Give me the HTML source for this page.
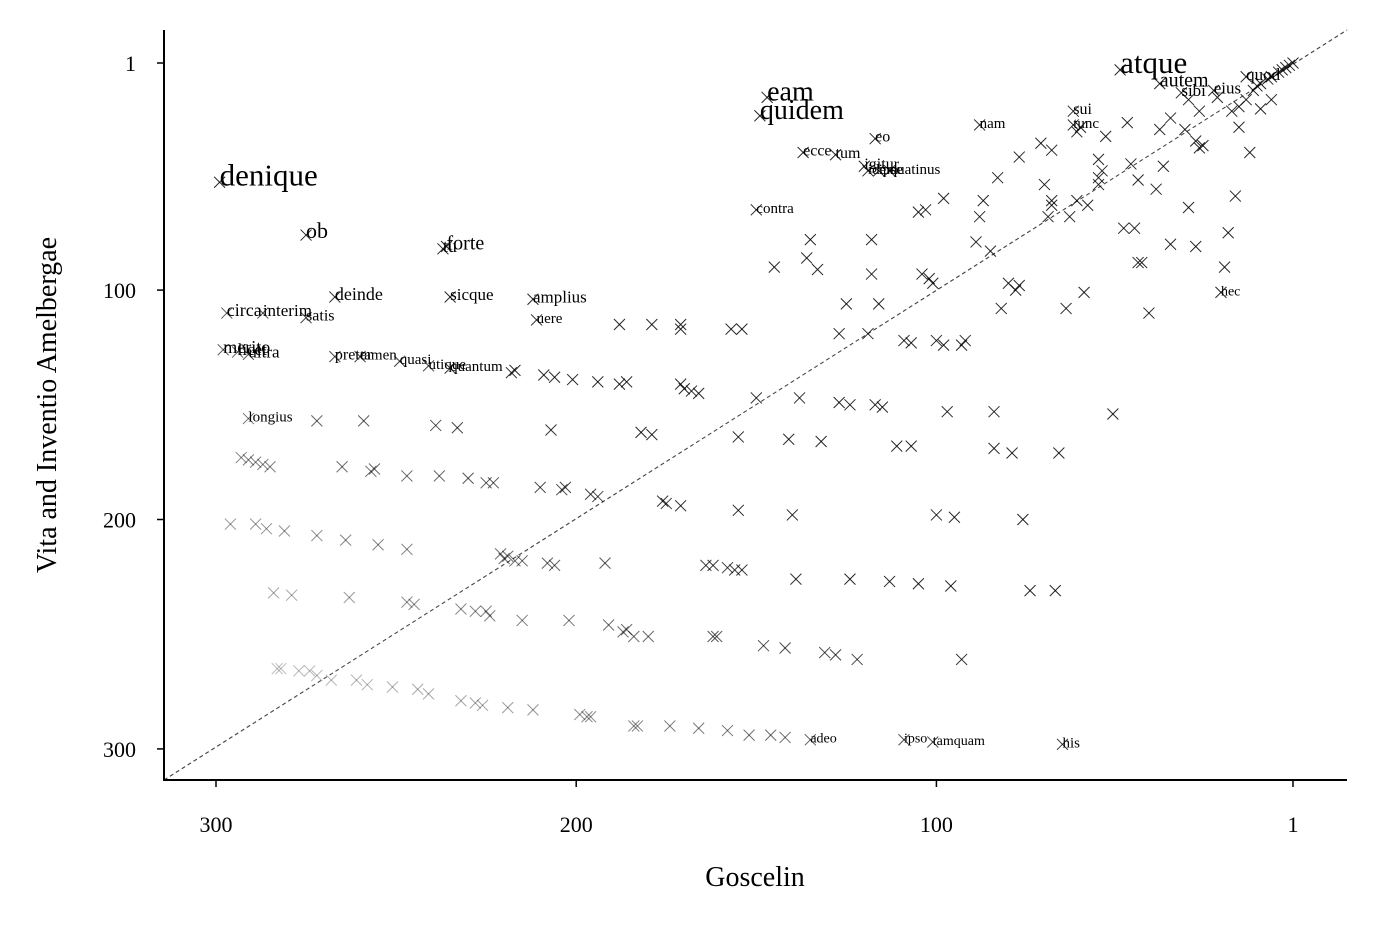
<!DOCTYPE html>
<html><head><meta charset="utf-8"><style>
html,body{margin:0;padding:0;background:#fff;}
svg{display:block;font-family:"Liberation Serif",serif;}
</style></head><body>
<svg id="chart" width="1376" height="925" viewBox="0 0 1376 925" xmlns="http://www.w3.org/2000/svg"></svg>
<script>
const gosRanks=[1,2,3,4,5,7,8,10,11,12,
7,10,14,16,18,16,13,17,19,20,
30,27,22,28,27,26,31,30,28,35,
38,37,35,39,41,44,46,47,43,44,
48,45,51,54,53,55,55,55,58,59,
64,66,67,74,60,61,61,63,68,68,
69,70,71,68,77,78,80,77,83,82,
85,84,84,79,76,89,88,87,98,105,
103,104,102,101,97,100,98,93,92,100,
95,96,93,105,113,124,139,118,116,118,
125,127,119,117,115,109,107,111,107,127,
124,122,131,128,142,148,135,133,136,145,
132,138,141,140,150,155,155,154,156,158,
162,164,161,162,152,146,142,158,166,174,
183,184,197,196,199,212,219,154,157,171,
170,168,166,179,182,176,175,171,180,184,
187,186,191,192,196,194,194,188,186,188,
201,206,209,218,217,207,210,204,203,221,
220,217,208,202,171,171,179,272,259,239,
233,293,291,289,287,285,265,257,256,247,
238,230,225,223,296,289,286,281,272,264,
255,247,219,215,206,284,279,263,247,245,
232,228,225,224,215,283,282,277,274,272,
268,261,258,251,244,241,232,228,226];
const vitaRanks=[1,2,3,4,5,7,8,10,11,13,
17,21,17,20,22,29,40,59,75,90,
17,22,16,35,38,37,30,64,81,25,
30,46,80,56,110,52,45,27,88,88,
73,73,154,48,33,43,51,54,63,101,
108,171,231,231,29,31,61,68,61,63,
68,54,36,39,42,100,97,98,51,108,
83,153,169,171,200,79,68,61,60,66,
65,93,95,97,153,122,124,124,122,198,
199,229,261,228,227,226,226,93,106,78,
106,119,119,150,151,122,123,168,168,149,
150,261,258,259,256,255,78,91,86,90,
166,147,165,198,147,164,196,222,222,221,
220,220,251,251,294,294,295,292,291,290,
290,290,286,286,285,283,282,117,117,141,
143,144,145,163,162,192,193,194,251,251,
249,248,246,219,189,190,140,141,140,115,
139,138,137,136,135,161,186,187,186,215,
217,218,219,244,115,117,115,157,157,159,
160,173,174,175,176,177,177,179,178,181,
181,182,184,184,202,202,204,205,207,209,
211,213,216,218,220,232,233,234,236,237,
239,240,240,242,244,265,265,266,266,268,
270,270,272,273,274,276,279,280,281];
const labelWords=["denique","ob","tu","forte","deinde","sicque","amplius","uere","circa","interim","satis","merito","licet","ultra","preter","tamen","quasi","utique","quantum","longius","contra","eam","quidem","eo","ecce","tum","igitur","idem","ipse","quatinus","nam","sui","tunc","atque","autem","sibi","eius","quod","hec","adeo","ipso","tamquam","his"];
const labelGos=[299,275,237,236,267,235,212,211,297,287,275,298,294,291,267,260,249,241,235,291,150,147,149,117,137,128,120,119,116,113,88,62,62,49,38,32,23,14,21,135,109,101,65];
const labelVita=[53,76,82,81,103,103,104,113,110,110,112,126,127,128,129,129,131,133,134,156,65,16,24,34,40,41,46,48,48,48,28,22,28,4,10,14,13,7,101,296,296,297,298];
const labelSizes=[31,22,18,20,18,17,17,15,18,17,16,18,17,17,16,15,15,15,15,15,15,28,28,16,16,16,16,15,15,15,15,16,15,31,20,17,17,17,14,14,14,14,15];
const xTicks=[300,200,100,1];
const yTicks=[1,100,200,300];

const NS="http://www.w3.org/2000/svg";
const svg=document.getElementById('chart');
const X=r=>1293-(r-1)*3.602;
const Y=r=>63+(r-1)*2.294;
const L=164,R=1347,T=30,B=780;
function mk(tag,attrs,parent){const e=document.createElementNS(NS,tag);for(const k in attrs)e.setAttribute(k,attrs[k]);(parent||svg).appendChild(e);return e;}

const diag=mk('line',{x1:L,y1:B,x2:R,y2:T,stroke:'#444','stroke-width':1.1,'stroke-dasharray':'4,3'});



const pts=mk('g',{});


function marker(gr,vr){
  let a=0.8-(gr+vr-365)*0.6/200;a=Math.max(0.15,Math.min(0.85,a));
  const cx=X(gr),cy=Y(vr),s=5.5;
  const g=mk('g',{stroke:'#000','stroke-opacity':a.toFixed(2),'stroke-width':1},pts);
  
  
  mk('line',{x1:cx-s,y1:cy-s,x2:cx+s,y2:cy+s},g);
  mk('line',{x1:cx-s,y1:cy+s,x2:cx+s,y2:cy-s},g);
}
const n=Math.min(gosRanks.length,vitaRanks.length);
for(let i=0;i<n;i++) marker(gosRanks[i],vitaRanks[i]);
for(let i=0;i<labelGos.length;i++) marker(labelGos[i],labelVita[i]);

const labs=mk('g',{});


for(let i=0;i<labelWords.length;i++){
  const t=mk('text',{x:X(labelGos[i]),y:Y(labelVita[i])+3,'font-size':labelSizes[i],fill:'#000'},labs);
  t.textContent=labelWords[i];
  
  
}
const ax=mk('g',{stroke:'#000','stroke-width':2});


mk('line',{x1:L,y1:T,x2:L,y2:B+1},ax);
mk('line',{x1:L-1,y1:B,x2:R,y2:B},ax);
for(const v of xTicks){
  mk('line',{x1:X(v),y1:B,x2:X(v),y2:B+7,'stroke-width':1.5},ax);
  const t=mk('text',{x:X(v),y:B+52,'font-size':22,'text-anchor':'middle',fill:'#000'});
  t.textContent=v;
  
  
}
for(const v of yTicks){
  mk('line',{x1:L,y1:Y(v),x2:L-7,y2:Y(v),'stroke-width':1.5},ax);
  const t=mk('text',{x:L-28,y:Y(v)+8,'font-size':22,'text-anchor':'end',fill:'#000'});
  t.textContent=v;
  
  
}
const xt=mk('text',{x:755,y:886,'font-size':28,'text-anchor':'middle',fill:'#000'});
xt.textContent='Goscelin';


const yt=mk('text',{x:0,y:0,'font-size':28,'text-anchor':'middle',fill:'#000',transform:'translate(56,405) rotate(-90)'});
yt.textContent='Vita and Inventio Amelbergae';


</script>
</body></html>
